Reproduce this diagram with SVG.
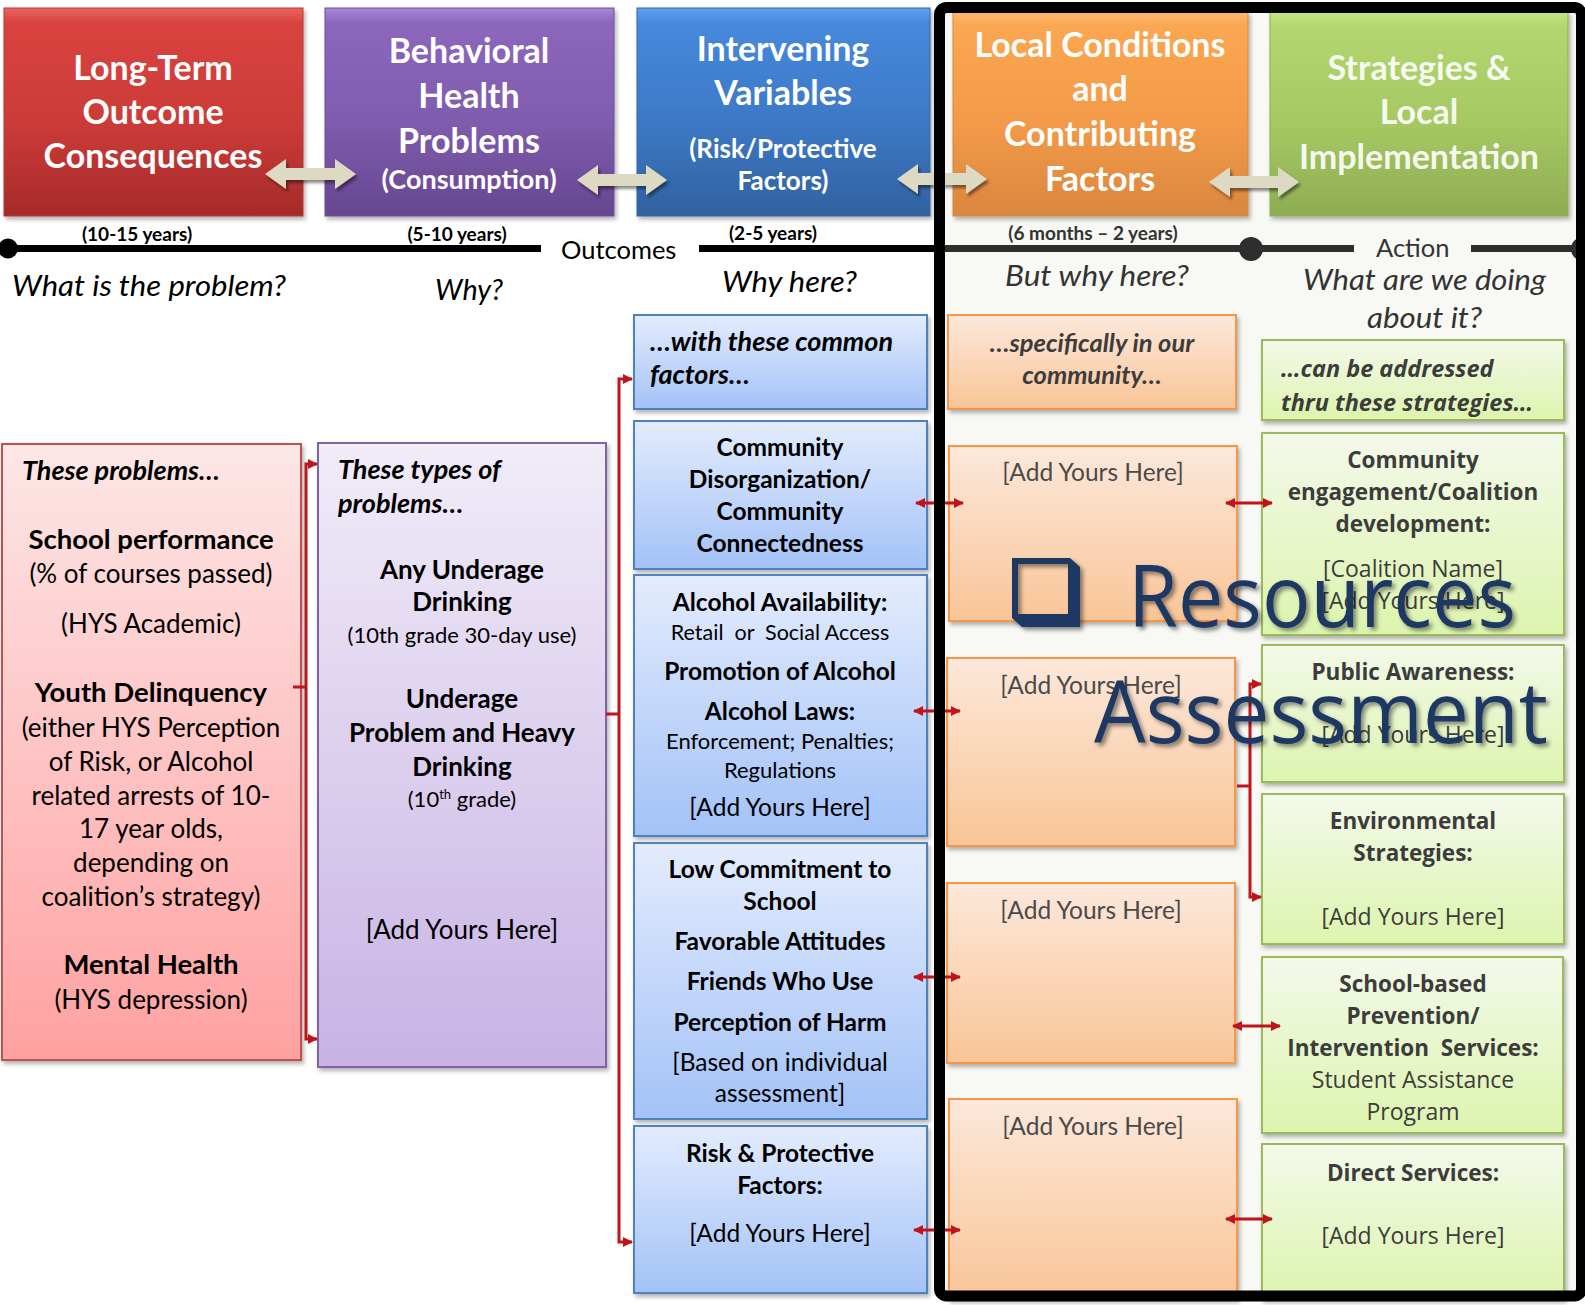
<svg xmlns="http://www.w3.org/2000/svg" width="1585" height="1305" viewBox="0 0 1585 1305">
<defs>
<style>
.t{font-family:Lato,"Liberation Sans",sans-serif;}
.os{font-family:"Open Sans","Liberation Sans",sans-serif;}
.b{font-weight:bold;}
.i{font-style:italic;}
.c{text-anchor:middle;}
.title{font-family:Lato,"Liberation Sans",sans-serif;font-weight:bold;fill:#fff;text-anchor:middle;}
.q{font-family:Lato,"Liberation Sans",sans-serif;font-style:italic;font-size:29px;}
.yr{font-family:Lato,"Liberation Sans",sans-serif;font-weight:bold;font-size:19px;text-anchor:middle;}
.red{stroke:#c0141a;stroke-width:3;fill:none;}
.dk{fill:#3c3c3c;}
.pre{white-space:pre;}
</style>
<linearGradient id="gRed" x1="0" y1="0" x2="0" y2="1"><stop offset="0" stop-color="#e86560"/><stop offset="0.07" stop-color="#d9433f"/><stop offset="0.55" stop-color="#cc3b38"/><stop offset="1" stop-color="#a52b29"/></linearGradient>
<linearGradient id="gPur" x1="0" y1="0" x2="0" y2="1"><stop offset="0" stop-color="#a888d6"/><stop offset="0.07" stop-color="#8c67bd"/><stop offset="0.55" stop-color="#7f5cae"/><stop offset="1" stop-color="#664690"/></linearGradient>
<linearGradient id="gBlu" x1="0" y1="0" x2="0" y2="1"><stop offset="0" stop-color="#62a2ee"/><stop offset="0.07" stop-color="#4689dc"/><stop offset="0.55" stop-color="#3d78c6"/><stop offset="1" stop-color="#31619f"/></linearGradient>
<linearGradient id="gOra" x1="0" y1="0" x2="0" y2="1"><stop offset="0" stop-color="#feb871"/><stop offset="0.07" stop-color="#fba651"/><stop offset="0.55" stop-color="#f29a48"/><stop offset="1" stop-color="#d9863f"/></linearGradient>
<linearGradient id="gGrn" x1="0" y1="0" x2="0" y2="1"><stop offset="0" stop-color="#c4e682"/><stop offset="0.07" stop-color="#b3d670"/><stop offset="0.55" stop-color="#a6c862"/><stop offset="1" stop-color="#8ead53"/></linearGradient>
<linearGradient id="lRed" x1="0" y1="0" x2="0" y2="1"><stop offset="0" stop-color="#fde7e7"/><stop offset="1" stop-color="#ffa1a1"/></linearGradient>
<linearGradient id="lPur" x1="0" y1="0" x2="0" y2="1"><stop offset="0" stop-color="#f1ecf8"/><stop offset="1" stop-color="#c7b3e4"/></linearGradient>
<linearGradient id="lBlu" x1="0" y1="0" x2="0" y2="1"><stop offset="0" stop-color="#e3ecfd"/><stop offset="1" stop-color="#a3c2f7"/></linearGradient>
<linearGradient id="lOra" x1="0" y1="0" x2="0" y2="1"><stop offset="0" stop-color="#fce8db"/><stop offset="1" stop-color="#f9c597"/></linearGradient>
<linearGradient id="lGrn" x1="0" y1="0" x2="0" y2="1"><stop offset="0" stop-color="#f3f9ea"/><stop offset="1" stop-color="#ddf4ae"/></linearGradient>
<filter id="sh" x="-5%" y="-5%" width="112%" height="115%"><feDropShadow dx="2" dy="3" stdDeviation="2" flood-color="#000" flood-opacity="0.3"/></filter>
<filter id="sh2" x="-10%" y="-20%" width="125%" height="150%"><feDropShadow dx="2" dy="3" stdDeviation="1.5" flood-color="#000" flood-opacity="0.45"/></filter>
<filter id="tsh" x="-5%" y="-10%" width="112%" height="130%"><feDropShadow dx="3" dy="3" stdDeviation="2" flood-color="#000" flood-opacity="0.45"/></filter>
<marker id="ah" viewBox="0 0 10 10" refX="9" refY="5" markerWidth="11" markerHeight="10" markerUnits="userSpaceOnUse" orient="auto-start-reverse"><path d="M0,0 L10,5 L0,10 Z" fill="#c0141a"/></marker>
</defs>

<rect x="0" y="0" width="1585" height="1305" fill="#ffffff"/>
<rect id="frame-bg" x="939" y="7" width="646" height="1290" fill="#f8f8f4"/>

<!-- Timeline -->
<g id="timeline">
<path d="M6,248.5 H541" stroke="#000" stroke-width="7"/>
<path d="M699,248.5 H940" stroke="#000" stroke-width="7"/>
<path d="M940,248.5 H1354 M1471,248.5 H1585" stroke="#2e2e2e" stroke-width="7"/>
<circle cx="8" cy="248.5" r="10" fill="#000"/>
<circle cx="1251" cy="249" r="12" fill="#2e2e2e"/>
<circle cx="1583" cy="249" r="12" fill="#2e2e2e"/>
<text class="t" x="561" y="259" font-size="25.5">Outcomes</text>
<text class="t" x="1376" y="257" font-size="25.5" fill="#333">Action</text>
<text class="yr" x="137" y="241">(10-15 years)</text>
<text class="yr" x="457" y="241">(5-10 years)</text>
<text class="yr" x="773" y="240">(2-5 years)</text>
<text class="yr" x="1093" y="240" fill="#333">(6 months – 2 years)</text>
<text class="q" x="12" y="296" textLength="274" lengthAdjust="spacingAndGlyphs">What is the problem?</text>
<text class="q" x="435" y="300" textLength="68" lengthAdjust="spacingAndGlyphs">Why?</text>
<text class="q" x="722" y="292" textLength="135" lengthAdjust="spacingAndGlyphs">Why here?</text>
<text class="q" x="1005" y="286" fill="#333" textLength="184" lengthAdjust="spacingAndGlyphs">But why here?</text>
<text class="q" x="1303" y="290" fill="#333" textLength="243" lengthAdjust="spacingAndGlyphs">What are we doing</text>
<text class="q" x="1367" y="328" fill="#333" textLength="115" lengthAdjust="spacingAndGlyphs">about it?</text>
</g>

<!-- Top header nodes -->
<g id="hdr-longterm">
<rect x="4" y="8" width="299" height="208" fill="url(#gRed)" stroke="#b33a37" stroke-width="1" filter="url(#sh)"/>
<text class="title" x="153" y="80" font-size="34">Long-Term</text>
<text class="title" x="153" y="124" font-size="34">Outcome</text>
<text class="title" x="153" y="168" font-size="34">Consequences</text>
</g>
<g id="hdr-behavioral">
<rect x="325" y="8" width="289" height="208" fill="url(#gPur)" stroke="#6e4f9a" stroke-width="1" filter="url(#sh)"/>
<text class="title" x="469" y="63" font-size="34">Behavioral</text>
<text class="title" x="469" y="108" font-size="34">Health</text>
<text class="title" x="469" y="153" font-size="34">Problems</text>
<text class="title" x="469" y="189" font-size="27">(Consumption)</text>
</g>
<g id="hdr-intervening">
<rect x="637" y="8" width="293" height="208" fill="url(#gBlu)" stroke="#34679f" stroke-width="1" filter="url(#sh)"/>
<text class="title" x="783" y="61" font-size="34">Intervening</text>
<text class="title" x="783" y="105" font-size="34">Variables</text>
<text class="title" x="783" y="158" font-size="26">(Risk/Protective</text>
<text class="title" x="783" y="190" font-size="26">Factors)</text>
</g>
<g id="hdr-local">
<rect x="953" y="12" width="295" height="204" fill="url(#gOra)" stroke="#d9863f" stroke-width="1" filter="url(#sh)"/>
<text class="title" x="1100" y="57" font-size="34">Local Conditions</text>
<text class="title" x="1100" y="101" font-size="34">and</text>
<text class="title" x="1100" y="146" font-size="34">Contributing</text>
<text class="title" x="1100" y="191" font-size="34">Factors</text>
</g>
<g id="hdr-strategies">
<rect x="1270" y="12" width="298" height="204" fill="url(#gGrn)" stroke="#8ead53" stroke-width="1" filter="url(#sh)"/>
<text class="title" x="1419" y="80" font-size="34" fill-opacity="0.93">Strategies &amp;</text>
<text class="title" x="1419" y="124" font-size="34" fill-opacity="0.93">Local</text>
<text class="title" x="1419" y="169" font-size="34" fill-opacity="0.93">Implementation</text>
</g>

<!-- Content nodes: column 1 -->
<g id="problems">
<rect x="2" y="444" width="299" height="616" fill="url(#lRed)" stroke="#c0504d" stroke-width="2" filter="url(#sh)"/>
<text class="t b i" x="22" y="480" font-size="27">These problems…</text>
<g class="t c" font-size="26">
<text class="b" x="151" y="549" font-size="27.5">School performance</text>
<text x="151" y="583">(% of courses passed)</text>
<text x="151" y="633">(HYS Academic)</text>
<text class="b" x="151" y="702" font-size="27.5">Youth Delinquency</text>
<text x="151" y="737">(either HYS Perception</text>
<text x="151" y="771">of Risk, or Alcohol</text>
<text x="151" y="805">related arrests of 10-</text>
<text x="151" y="838">17 year olds,</text>
<text x="151" y="872">depending on</text>
<text x="151" y="906">coalition’s strategy)</text>
<text class="b" x="151" y="974" font-size="27.5">Mental Health</text>
<text x="151" y="1009">(HYS depression)</text>
</g>
</g>

<!-- column 2 -->
<g id="types">
<rect x="318" y="443" width="288" height="624" fill="url(#lPur)" stroke="#8064a2" stroke-width="2" filter="url(#sh)"/>
<text class="t b i" x="338" y="479" font-size="27">These types of</text>
<text class="t b i" x="338" y="513" font-size="27">problems…</text>
<g class="t c">
<text class="b" x="462" y="579" font-size="26">Any Underage</text>
<text class="b" x="462" y="611" font-size="26">Drinking</text>
<text x="462" y="643" font-size="22">(10th grade 30-day use)</text>
<text class="b" x="462" y="708" font-size="26">Underage</text>
<text class="b" x="462" y="742" font-size="26">Problem and Heavy</text>
<text class="b" x="462" y="776" font-size="26">Drinking</text>
<text x="462" y="807" font-size="22">(10<tspan font-size="13" dy="-8">th</tspan><tspan dy="8"> grade)</tspan></text>
<text x="462" y="939" font-size="26">[Add Yours Here]</text>
</g>
</g>

<!-- column 3 -->
<g id="common-factors">
<rect x="634" y="315" width="293" height="94" fill="url(#lBlu)" stroke="#4f81bd" stroke-width="2" filter="url(#sh)"/>
<text class="t b i" x="650" y="351" font-size="27">…with these common</text>
<text class="t b i" x="650" y="384" font-size="27">factors…</text>
</g>
<g id="community-disorg">
<rect x="634" y="421" width="293" height="148" fill="url(#lBlu)" stroke="#4f81bd" stroke-width="2" filter="url(#sh)"/>
<g class="t b c" font-size="24.5">
<text x="780" y="456">Community</text>
<text x="780" y="488">Disorganization/</text>
<text x="780" y="520">Community</text>
<text x="780" y="552">Connectedness</text>
</g>
</g>
<g id="alcohol">
<rect x="634" y="575" width="293" height="261" fill="url(#lBlu)" stroke="#4f81bd" stroke-width="2" filter="url(#sh)"/>
<g class="t c">
<text class="b" x="780" y="611" font-size="24.5">Alcohol Availability:</text>
<text class="pre" x="780" y="640" font-size="21.5">Retail  or  Social Access</text>
<text class="b" x="780" y="680" font-size="24.5">Promotion of Alcohol</text>
<text class="b" x="780" y="720" font-size="24.5">Alcohol Laws:</text>
<text x="780" y="749" font-size="22">Enforcement; Penalties;</text>
<text x="780" y="778" font-size="22">Regulations</text>
<text x="780" y="816" font-size="24.5">[Add Yours Here]</text>
</g>
</g>
<g id="school-commit">
<rect x="634" y="843" width="293" height="276" fill="url(#lBlu)" stroke="#4f81bd" stroke-width="2" filter="url(#sh)"/>
<g class="t c" font-size="24.5">
<text class="b" x="780" y="878">Low Commitment to</text>
<text class="b" x="780" y="910">School</text>
<text class="b" x="780" y="950">Favorable Attitudes</text>
<text class="b" x="780" y="990">Friends Who Use</text>
<text class="b" x="780" y="1031">Perception of Harm</text>
<text x="780" y="1071">[Based on individual</text>
<text x="780" y="1102">assessment]</text>
</g>
</g>
<g id="risk-protective">
<rect x="634" y="1126" width="293" height="167" fill="url(#lBlu)" stroke="#4f81bd" stroke-width="2" filter="url(#sh)"/>
<g class="t c" font-size="24.5">
<text class="b" x="780" y="1162">Risk &amp; Protective</text>
<text class="b" x="780" y="1194">Factors:</text>
<text x="780" y="1242">[Add Yours Here]</text>
</g>
</g>

<!-- column 4 (orange) -->
<g id="specifically">
<rect x="948" y="315" width="288" height="94" fill="url(#lOra)" stroke="#f79646" stroke-width="2" filter="url(#sh)"/>
<text class="t b i c dk" x="1092" y="352" font-size="25.5">…specifically in our</text>
<text class="t b i c dk" x="1092" y="384" font-size="25.5">community…</text>
</g>
<g id="local-1">
<rect x="949" y="446" width="288" height="175" fill="url(#lOra)" stroke="#f79646" stroke-width="2" filter="url(#sh)"/>
<text class="t c" x="1093" y="481" font-size="24.5" fill="#4a4a4a">[Add Yours Here]</text>
</g>
<g id="local-2">
<rect x="947" y="658" width="288" height="188" fill="url(#lOra)" stroke="#f79646" stroke-width="2" filter="url(#sh)"/>
<text class="t c" x="1091" y="694" font-size="24.5" fill="#4a4a4a">[Add Yours Here]</text>
</g>
<g id="local-3">
<rect x="947" y="883" width="288" height="180" fill="url(#lOra)" stroke="#f79646" stroke-width="2" filter="url(#sh)"/>
<text class="t c" x="1091" y="919" font-size="24.5" fill="#4a4a4a">[Add Yours Here]</text>
</g>
<g id="local-4">
<rect x="949" y="1099" width="288" height="200" fill="url(#lOra)" stroke="#f79646" stroke-width="2" filter="url(#sh)"/>
<text class="t c" x="1093" y="1135" font-size="24.5" fill="#4a4a4a">[Add Yours Here]</text>
</g>

<!-- column 5 (green) -->
<g id="addressed">
<rect x="1262" y="340" width="302" height="80" fill="url(#lGrn)" stroke="#9bbb59" stroke-width="2" filter="url(#sh)"/>
<text class="os b i dk" x="1281" y="377" font-size="23.5">…can be addressed</text>
<text class="os b i dk" x="1281" y="411" font-size="23.5">thru these strategies…</text>
</g>
<g id="engagement">
<rect x="1262" y="433" width="302" height="202" fill="url(#lGrn)" stroke="#9bbb59" stroke-width="2" filter="url(#sh)"/>
<g class="os c dk" font-size="23">
<text class="b" x="1413" y="468" font-size="22.5">Community</text>
<text class="b" x="1413" y="500" font-size="22.5">engagement/Coalition</text>
<text class="b" x="1413" y="532" font-size="22.5">development:</text>
<text x="1413" y="577">[Coalition Name]</text>
<text x="1413" y="609">[Add Yours Here]</text>
</g>
</g>
<g id="public-awareness">
<rect x="1262" y="645" width="302" height="137" fill="url(#lGrn)" stroke="#9bbb59" stroke-width="2" filter="url(#sh)"/>
<g class="os c dk" font-size="23">
<text class="b" x="1413" y="680" font-size="22.5">Public Awareness:</text>
<text x="1413" y="743">[Add Yours Here]</text>
</g>
</g>
<g id="environmental">
<rect x="1262" y="794" width="302" height="150" fill="url(#lGrn)" stroke="#9bbb59" stroke-width="2" filter="url(#sh)"/>
<g class="os c dk" font-size="23">
<text class="b" x="1413" y="829" font-size="22.5">Environmental</text>
<text class="b" x="1413" y="861" font-size="22.5">Strategies:</text>
<text x="1413" y="925">[Add Yours Here]</text>
</g>
</g>
<g id="school-based">
<rect x="1262" y="957" width="301" height="176" fill="url(#lGrn)" stroke="#9bbb59" stroke-width="2" filter="url(#sh)"/>
<g class="os c dk" font-size="23">
<text class="b" x="1413" y="992" font-size="22.5">School-based</text>
<text class="b" x="1413" y="1024" font-size="22.5">Prevention/</text>
<text class="b pre" x="1413" y="1056" font-size="22.5">Intervention  Services:</text>
<text x="1413" y="1088">Student Assistance</text>
<text x="1413" y="1120">Program</text>
</g>
</g>
<g id="direct-services">
<rect x="1262" y="1144" width="302" height="155" fill="url(#lGrn)" stroke="#9bbb59" stroke-width="2" filter="url(#sh)"/>
<g class="os c dk" font-size="23">
<text class="b" x="1413" y="1181" font-size="22.5">Direct Services:</text>
<text x="1413" y="1244">[Add Yours Here]</text>
</g>
</g>

<!-- Connectors -->
<g id="connectors">
<g fill="#ddd9c3" filter="url(#sh2)">
<path d="M265,174 L286,159 L286,168 L335,168 L335,159 L356,174 L335,189 L335,180 L286,180 L286,189 Z"/>
<path d="M577,180 L598,165 L598,174 L646,174 L646,165 L667,180 L646,195 L646,186 L598,186 L598,195 Z"/>
<path d="M897,179 L918,164 L918,173 L966,173 L966,164 L987,179 L966,194 L966,185 L918,185 L918,194 Z"/>
<path d="M1209,182 L1230,167 L1230,176 L1278,176 L1278,167 L1299,182 L1278,197 L1278,188 L1230,188 L1230,197 Z"/>
</g>
<path class="red" d="M317,464 H306 V1039 H317" marker-start="url(#ah)" marker-end="url(#ah)"/>
<path class="red" d="M293,687 H306"/>
<path class="red" d="M632,379 H619 V1242 H632" marker-start="url(#ah)" marker-end="url(#ah)"/>
<path class="red" d="M606,714 H619"/>
<path class="red" d="M1261,684 H1250 V897 H1261" marker-start="url(#ah)" marker-end="url(#ah)"/>
<path class="red" d="M1237,786 H1250"/>
<path class="red" d="M916,503 H963" marker-start="url(#ah)" marker-end="url(#ah)"/>
<path class="red" d="M914,711 H960" marker-start="url(#ah)" marker-end="url(#ah)"/>
<path class="red" d="M914,977 H960" marker-start="url(#ah)" marker-end="url(#ah)"/>
<path class="red" d="M914,1230 H960" marker-start="url(#ah)" marker-end="url(#ah)"/>
<path class="red" d="M1226,503 H1272" marker-start="url(#ah)" marker-end="url(#ah)"/>
<path class="red" d="M1233,1026 H1280" marker-start="url(#ah)" marker-end="url(#ah)"/>
<path class="red" d="M1226,1219 H1272" marker-start="url(#ah)" marker-end="url(#ah)"/>
</g>

<!-- Frame -->
<rect id="frame" x="939.5" y="7.5" width="642" height="1288.5" rx="7" fill="none" stroke="#000" stroke-width="11"/>

<!-- Overlay title -->
<g id="resources-assessment" filter="url(#tsh)" fill="#1f3864">
<path fill-rule="evenodd" d="M1012,558 L1070,558 L1080,567 L1080,627 L1022,627 L1012,618 Z M1018,564 L1068,564 L1068,614 L1018,614 Z"/>
<text class="os" x="1128" y="627" font-size="86" textLength="388" lengthAdjust="spacingAndGlyphs">Resources</text>
<text class="os" x="1094" y="743" font-size="86" textLength="454" lengthAdjust="spacingAndGlyphs">Assessment</text>
</g>
</svg>
